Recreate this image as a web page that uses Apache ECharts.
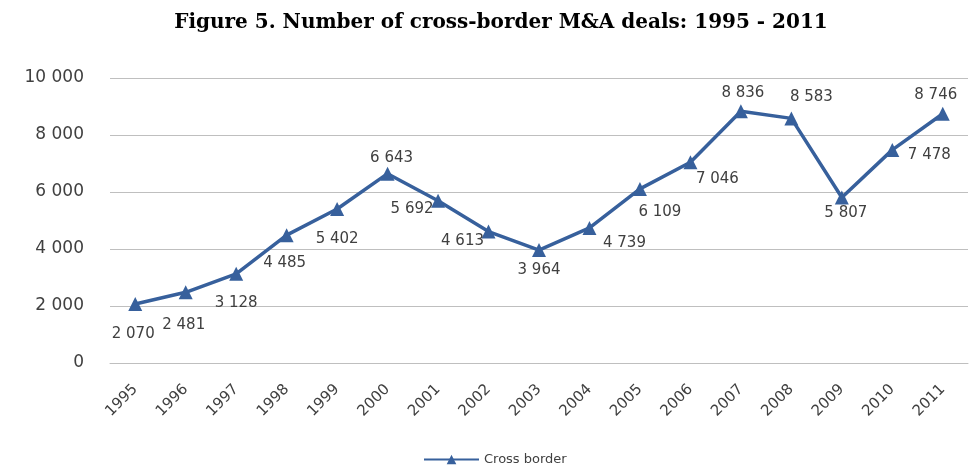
<!DOCTYPE html>
<html>
<head>
<meta charset="utf-8">
<script src="https://cdn.jsdelivr.net/npm/echarts@6/dist/echarts.min.js"></script>
<style>
  html, body { margin: 0; padding: 0; background: #ffffff; }
  #chart { width: 970px; height: 469px; }
</style>
</head>
<body>
<div id="chart"></div>
<script>
// Cross-border M&A deals per year
const years = ['1995', '1996', '1997', '1998', '1999', '2000', '2001', '2002', '2003',
               '2004', '2005', '2006', '2007', '2008', '2009', '2010', '2011'];
const deals = [2070, 2481, 3128, 4485, 5402, 6643, 5692, 4613, 3964,
               4739, 6109, 7046, 8836, 8583, 5807, 7478, 8746];
const yTicks = [0, 2000, 4000, 6000, 8000, 10000];

// Where each value label sits relative to its marker (dx, dy in px)
const labelNudge = [
  [-2, 30], [-2, 33], [0, 29], [-2, 28], [0, 30], [4, -16], [-26, 8], [-26, 10], [0, 20],
  [35, 15], [20, 23], [27, 17], [2, -18], [20, -21], [4, 16], [37, 5], [-7, -19]
];

const spaced = v => String(v).replace(/\B(?=(\d{3})+(?!\d))/g, ' ');
const sansFont = '"DejaVu Sans", "Open Sans", sans-serif';
const textGrey = '#404040';
const lineBlue = '#37609c';

const seriesData = deals.map((v, i) => ({
  value: v,
  label: { offset: labelNudge[i] }
}));

const chart = echarts.init(document.getElementById('chart'), null, { renderer: 'canvas' });
chart.setOption({
  animation: false,
  backgroundColor: '#ffffff',
  title: {
    text: 'Figure 5. Number of cross-border M&A deals: 1995 - 2011',
    left: 496,
    textAlign: 'center',
    top: 8,
    textStyle: {
      fontFamily: '"DejaVu Serif", "Liberation Serif", serif',
      fontWeight: 'bold',
      fontSize: 20,
      color: '#000000'
    }
  },
  legend: {
    bottom: -2,
    left: 418,
    itemWidth: 55,
    itemHeight: 12,
    itemGap: 4,
    textStyle: { fontFamily: sansFont, fontSize: 13, color: textGrey },
    data: ['Cross border']
  },
  grid: { left: 110, right: 2, top: 78, bottom: 106 },
  xAxis: {
    type: 'category',
    data: years,
    boundaryGap: true,
    axisLine: { show: true, lineStyle: { color: '#bfbfbf', width: 1 } },
    axisTick: { show: false },
    axisLabel: {
      rotate: 45,
      margin: 24,
      fontFamily: sansFont,
      fontSize: 15,
      color: textGrey
    }
  },
  yAxis: {
    type: 'value',
    min: yTicks[0],
    max: yTicks[yTicks.length - 1],
    interval: yTicks[1] - yTicks[0],
    axisLine: { show: false },
    axisTick: { show: false },
    splitLine: { lineStyle: { color: '#bfbfbf', width: 1 } },
    axisLabel: {
      margin: 26,
      fontFamily: sansFont,
      fontSize: 17,
      color: textGrey,
      formatter: v => spaced(v)
    }
  },
  series: [{
    name: 'Cross border',
    type: 'line',
    data: seriesData,
    symbol: 'triangle',
    symbolSize: 14,
    lineStyle: { color: lineBlue, width: 3.5 },
    itemStyle: { color: lineBlue },
    label: {
      show: true,
      position: 'inside',
      fontFamily: sansFont,
      fontSize: 15,
      color: textGrey,
      formatter: p => spaced(p.value)
    }
  }]
});
</script>
</body>
</html>
